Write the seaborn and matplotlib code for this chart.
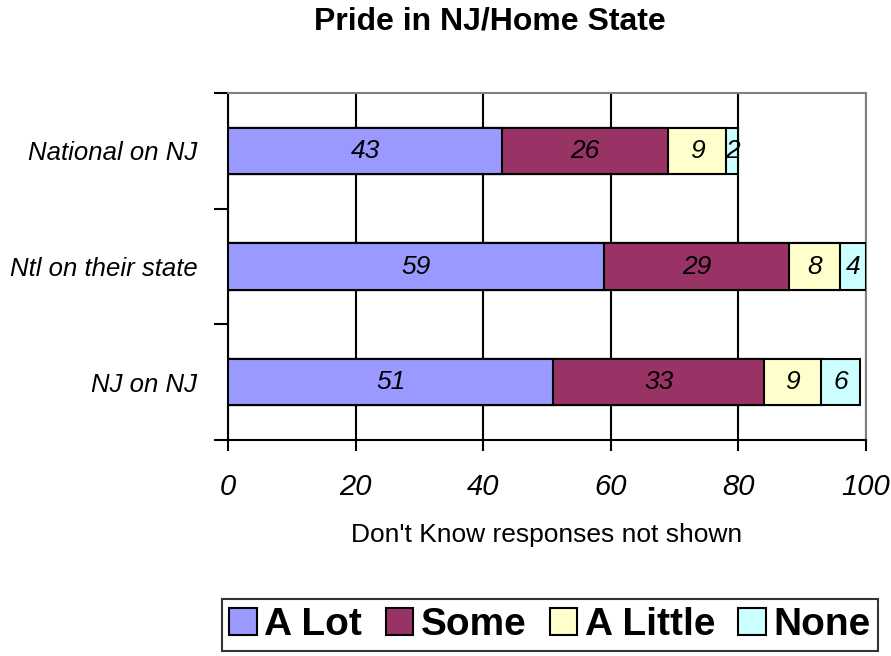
import pandas as pd
import matplotlib
matplotlib.use("Agg")
import matplotlib.pyplot as plt
import seaborn as sns
from matplotlib.patches import Patch

groups = ['National on NJ', 'Ntl on their state', 'NJ on NJ']
series = ['A Lot', 'Some', 'A Little', 'None']
a_lot = [43, 59, 51]
some = [26, 29, 33]
a_little = [9, 8, 9]
none = [2, 4, 6]
colors = ['#9999FF', '#993366', '#FFFFCC', '#CCFFFF']

sns.set_style('white')
plt.rcParams['font.family'] = ['Liberation Sans', 'DejaVu Sans']
plt.rcParams['text.color'] = 'black'
plt.rcParams['xtick.color'] = 'black'
plt.rcParams['ytick.color'] = 'black'
plt.rcParams['axes.labelcolor'] = 'black'

df = pd.DataFrame({'group': groups, 'A Lot': a_lot, 'Some': some,
                   'A Little': a_little, 'None': none})
cum = df[series].cumsum(axis=1)

fig = plt.figure(figsize=(8.91, 6.56), dpi=100)
ax = fig.add_axes([228 / 891, 1 - 440 / 656, (866 - 228) / 891, (440 - 93) / 656])

# stacked bars: draw cumulative totals from the back
for s, c in reversed(list(zip(series, colors))):
    sns.barplot(x=cum[s], y=df['group'], orient='h', color=c, width=0.4,
                edgecolor='black', linewidth=1.5, saturation=1, ax=ax, zorder=3)

# value labels in the middle of each segment
for i in range(len(groups)):
    start = 0
    for s in series:
        v = df.loc[i, s]
        ax.text(start + v / 2, i, str(v), ha='center', va='center',
                fontsize=19, style='italic', color='black', zorder=4)
        start += v

ax.set_xlim(0, 100)
ax.set_ylim(2.5, -0.5)
ax.set_xticks([0, 20, 40, 60, 80, 100])
ax.set_xticklabels(['0', '20', '40', '60', '80', '100'], fontsize=21, style='italic')
ax.tick_params(axis='x', bottom=True, direction='out', length=8, width=1.5, pad=16)

ax.set_yticks([-0.5, 0.5, 1.5, 2.5])
ax.set_yticklabels([])
ax.set_yticks([0, 1, 2], minor=True)
ax.set_yticklabels(groups, minor=True, fontsize=18.5, style='italic')
ax.tick_params(axis='y', which='major', left=True, direction='out', length=10, width=1.5)
ax.tick_params(axis='y', which='minor', left=True, length=0, pad=22)

ax.xaxis.grid(True, color='black', linewidth=1.5, zorder=0)
ax.set_axisbelow(True)
ax.set_xlabel('')
ax.set_ylabel('')

for side in ['left', 'bottom']:
    ax.spines[side].set_color('black')
    ax.spines[side].set_linewidth(1.5)
for side in ['top', 'right']:
    ax.spines[side].set_color('#808080')
    ax.spines[side].set_linewidth(1.5)

fig.text(490 / 891, 1 - 22 / 656, 'Pride in NJ/Home State', ha='center', va='center',
         fontsize=23, fontweight='bold')
fig.text(547 / 891, 1 - 535 / 656, "Don't Know responses not shown", ha='center',
         va='center', fontsize=19)

handles = [Patch(facecolor=c, edgecolor='black', linewidth=1.5) for c in colors]
leg = fig.legend(handles, series, loc='center', bbox_to_anchor=(550 / 891, 1 - 625 / 656),
                 ncol=4, frameon=True, fancybox=False, edgecolor='black',
                 prop={'weight': 'bold', 'size': 28}, handlelength=0.7, handleheight=0.7,
                 handletextpad=0.2, columnspacing=0.6, borderpad=0.2)
leg.get_frame().set_linewidth(1.5)

fig.savefig('out.png', dpi=100)
